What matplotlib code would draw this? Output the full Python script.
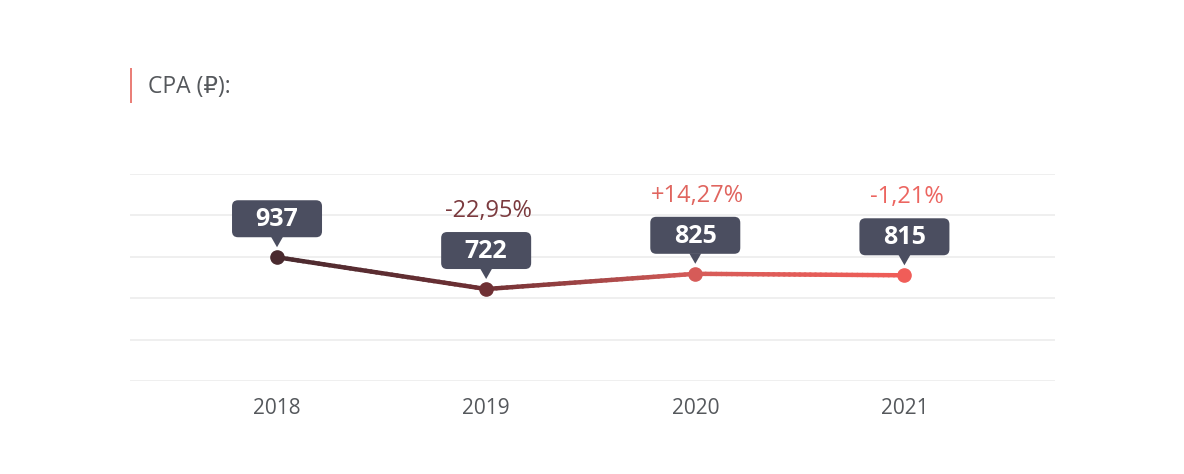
import matplotlib
matplotlib.use("Agg")
import matplotlib.pyplot as plt
import numpy as np
from matplotlib.collections import LineCollection
from matplotlib.patches import FancyBboxPatch, Polygon
from matplotlib.transforms import Affine2D, ScaledTranslation
from matplotlib.colors import to_rgb

plt.rcParams['font.family'] = ['Open Sans', 'DejaVu Sans']

# data
years = ["2018", "2019", "2020", "2021"]
cpa = [937, 722, 825, 815]
changes = ["", "-22,95%", "+14,27%", "-1,21%"]

point_colors = ["#4a2a2f", "#6f3034", "#d65b58", "#f05d58"]
change_colors = ["#7b3a3e", "#7b3a3e", "#e0655f", "#ec6560"]
box_color = "#4b4e60"

fig = plt.figure(figsize=(11.84, 4.74), dpi=100)
ax = fig.add_axes([130 / 1184, 1 - 381 / 474, 925 / 1184, 207 / 474])

x = np.arange(len(years))
ax.set_xlim(-0.703, 3.72)
ax.set_ylim(100, 1500)
ax.set_yticks(np.linspace(100, 1500, 6))
ax.yaxis.grid(True, color="#ececec", linewidth=1.2)
ax.set_axisbelow(True)
for s in ax.spines.values():
    s.set_visible(False)
ax.tick_params(axis="y", left=False, labelleft=False)
ax.set_xticks(x)
ax.set_xticklabels(years, fontsize=15, color="#55585c")
ax.tick_params(axis="x", length=0, pad=12)

# gradient line between points (subdivided only for colouring)
segs, cols = [], []
for i in range(len(x) - 1):
    c0, c1 = np.array(to_rgb(point_colors[i])), np.array(to_rgb(point_colors[i + 1]))
    t = np.linspace(0, 1, 41)
    xs = x[i] + (x[i + 1] - x[i]) * t
    ys = cpa[i] + (cpa[i + 1] - cpa[i]) * t
    for k in range(len(t) - 1):
        segs.append([(xs[k], ys[k]), (xs[k + 1], ys[k + 1])])
        cols.append(c0 + (c1 - c0) * (t[k] + t[k + 1]) / 2)
lc = LineCollection(segs, colors=cols, linewidths=3.2, capstyle="round", zorder=3)
ax.add_collection(lc)

for i in range(len(x)):
    ax.plot(x[i], cpa[i], "o", color=point_colors[i], markersize=9.5, zorder=4)

    # value label box (pixel sizes) anchored at the point
    tr = Affine2D() + ScaledTranslation(x[i], cpa[i], ax.transData)
    bw, bh, gap = 90, 37, 20
    box = FancyBboxPatch((-bw / 2, gap), bw, bh,
                         boxstyle="round,pad=0,rounding_size=6",
                         facecolor=box_color, edgecolor="none",
                         transform=tr, zorder=5, clip_on=False)
    ax.add_patch(box)
    tri = Polygon([(-6, gap + 0.5), (6, gap + 0.5), (0, gap - 10)], closed=True,
                  facecolor=box_color, edgecolor="none", transform=tr,
                  zorder=5, clip_on=False)
    ax.add_patch(tri)
    ax.annotate(str(cpa[i]), (x[i], cpa[i]), xytext=(0, gap + bh / 2 - 1),
                textcoords="offset pixels", ha="center", va="center",
                fontsize=18, fontweight="bold", color="white", zorder=6)
    if changes[i]:
        ax.annotate(changes[i], (x[i], cpa[i]), xytext=(2, gap + bh + 21),
                    textcoords="offset pixels", ha="center", va="center",
                    fontsize=17, color=change_colors[i], zorder=6)

# title with red marker bar
fig.patches.append(plt.Rectangle((130 / 1184, 1 - 103 / 474), 2 / 1184, 35 / 474,
                                 transform=fig.transFigure, facecolor="#ea7f78",
                                 edgecolor="none"))
fig.text(148 / 1184, 1 - 87 / 474, "CPA (₽):", fontsize=16.5, color="#55585c",
         ha="left", va="center")

fig.savefig("out.png", dpi=100, facecolor="white")
